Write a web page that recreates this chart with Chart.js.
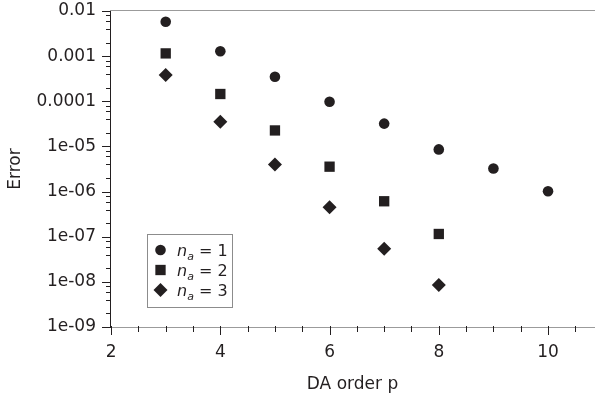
<!DOCTYPE html>
<html>
<head>
<meta charset="utf-8">
<script src="https://cdn.jsdelivr.net/npm/chart.js@4.4.1/dist/chart.umd.min.js"></script>
<style>
  html, body { margin: 0; padding: 0; background: #fff; }
</style>
</head>
<body>
<canvas id="myChart" width="595" height="395"></canvas>
<script>
// valores
const pOrder = [3, 4, 5, 6, 7, 8, 9, 10];
const errNa1 = [5.8e-3, 1.28e-3, 3.5e-4, 9.8e-5, 3.2e-5, 8.6e-6, 3.25e-6, 1.02e-6];
const errNa2 = [1.15e-3, 1.45e-4, 2.26e-5, 3.56e-6, 6.1e-7, 1.15e-7];
const errNa3 = [3.8e-4, 3.5e-5, 4.0e-6, 4.5e-7, 5.4e-8, 8.5e-9];
const naValues = ['1', '2', '3'];

const xTickValues = [2, 4, 6, 8, 10];
const xTickLabels = ['2', '4', '6', '8', '10'];
const yTickValues = [1e-9, 1e-8, 1e-7, 1e-6, 1e-5, 1e-4, 1e-3, 1e-2];
const yTickLabels = ['1e-09', '1e-08', '1e-07', '1e-06', '1e-05', '0.0001', '0.001', '0.01'];

const INK = '#231f20';
const GRIS = '#9b9b9b';
const FUENTE = { family: '"DejaVu Sans", Verdana, sans-serif', size: 17 };

function puntos(ys) {
  return ys.map((v, i) => ({ x: pOrder[i], y: v }));
}

// quita el relleno automatico que agrega chart.js por las etiquetas
function sinRelleno(s) {
  s.paddingTop = 0;
  s.paddingBottom = 0;
  s.paddingLeft = 0;
  s.paddingRight = 0;
}

// marcas mayores y menores de los ejes + linea superior
const marcasEjes = {
  id: 'marcasEjes',
  afterDraw(chart) {
    const { ctx, chartArea: a, scales: { x, y } } = chart;
    ctx.save();
    ctx.lineWidth = 1;
    ctx.strokeStyle = GRIS;
    ctx.beginPath();
    ctx.moveTo(a.left, a.top - 0.5);
    ctx.lineTo(a.right, a.top - 0.5);
    ctx.stroke();

    ctx.strokeStyle = INK;
    ctx.beginPath();
    for (let v = 2; v <= 10.5; v += 0.5) {
      const px = Math.round(x.getPixelForValue(v)) + 0.5;
      const largo = v % 2 === 0 ? 8 : 5;
      ctx.moveTo(px, a.bottom - 1);
      ctx.lineTo(px, a.bottom + largo);
    }
    yTickValues.forEach((d, i) => {
      let py = Math.round(y.getPixelForValue(d)) + 0.5;
      ctx.moveTo(a.left - 8, py);
      ctx.lineTo(a.left, py);
      if (i < yTickValues.length - 1) {
        [2, 4, 6, 8].forEach(m => {
          py = Math.round(y.getPixelForValue(d * m)) + 0.5;
          ctx.moveTo(a.left - 4, py);
          ctx.lineTo(a.left, py);
        });
      }
    });
    ctx.stroke();
    ctx.restore();
  }
};

// leyenda con subindice (n_a)
const leyendaNa = {
  id: 'leyendaNa',
  afterDraw(chart) {
    const { ctx, chartArea: a } = chart;
    const bx = a.left + 37, by = a.top + 223, bw = 85, bh = 73;
    ctx.save();
    ctx.fillStyle = '#fff';
    ctx.fillRect(bx, by, bw, bh);
    ctx.strokeStyle = '#8c8c8c';
    ctx.lineWidth = 1;
    ctx.strokeRect(bx + 0.5, by + 0.5, bw, bh);

    chart.data.datasets.forEach((ds, i) => {
      const cy = by + 16 + i * 20;
      ctx.fillStyle = INK;
      Chart.helpers.drawPoint(ctx, {
        pointStyle: ds.pointStyle, radius: ds.pointRadius, rotation: 0, borderWidth: 0
      }, bx + 13.5, cy);

      const base = cy + 6;
      let tx = bx + 30;
      ctx.textBaseline = 'alphabetic';
      ctx.textAlign = 'left';
      ctx.font = 'italic 16px "DejaVu Sans"';
      ctx.fillText('n', tx, base);
      tx += ctx.measureText('n').width;
      ctx.font = 'italic 11px "DejaVu Sans"';
      ctx.fillText('a', tx, base + 4);
      tx += ctx.measureText('a').width;
      ctx.font = '16px "DejaVu Sans"';
      ctx.fillText(' = ' + naValues[i], tx, base);
    });
    ctx.restore();
  }
};

const ctx = document.querySelector('#myChart').getContext('2d');

const myChart = new Chart(ctx, {
  type: 'scatter',
  data: {
    datasets: [
      {
        label: 'na = 1', data: puntos(errNa1),
        pointStyle: 'circle', pointRadius: 5.3,
        backgroundColor: INK, borderWidth: 0
      },
      {
        label: 'na = 2', data: puntos(errNa2),
        pointStyle: 'rect', pointRadius: 7.3,
        backgroundColor: INK, borderWidth: 0
      },
      {
        label: 'na = 3', data: puntos(errNa3),
        pointStyle: 'rectRot', pointRadius: 7,
        backgroundColor: INK, borderWidth: 0
      }
    ]
  },
  options: {
    responsive: false,
    animation: false,
    layout: { autoPadding: false, padding: { top: 11, right: 0, bottom: 0, left: 0 } },
    plugins: {
      legend: { display: false },
      tooltip: { enabled: false }
    },
    scales: {
      x: {
        type: 'linear',
        min: 1.98,
        max: 10.86,
        afterBuildTicks: s => { s.ticks = xTickValues.map(v => ({ value: v })); },
        afterFit: s => { s.height = 68; sinRelleno(s); },
        ticks: {
          callback: v => xTickLabels[xTickValues.indexOf(v)],
          font: FUENTE, color: INK, padding: 15,
          maxRotation: 0, autoSkip: false
        },
        grid: { display: false, drawTicks: false },
        border: { color: GRIS },
        title: {
          display: true, text: 'DA order p',
          font: FUENTE, color: INK, padding: { top: 0, bottom: 0 }
        }
      },
      y: {
        type: 'logarithmic',
        min: 1e-9,
        max: 1e-2,
        afterBuildTicks: s => { s.ticks = yTickValues.map(v => ({ value: v })); },
        afterFit: s => { s.width = 110; sinRelleno(s); },
        ticks: {
          callback: v => yTickLabels[yTickValues.indexOf(v)],
          font: FUENTE, color: INK, padding: 14, autoSkip: false
        },
        grid: { display: false, drawTicks: false },
        border: { color: INK },
        title: {
          display: true, text: 'Error',
          font: FUENTE, color: INK, padding: { top: 5, bottom: 0 }
        }
      }
    }
  },
  plugins: [marcasEjes, leyendaNa]
});
</script>
</body>
</html>
